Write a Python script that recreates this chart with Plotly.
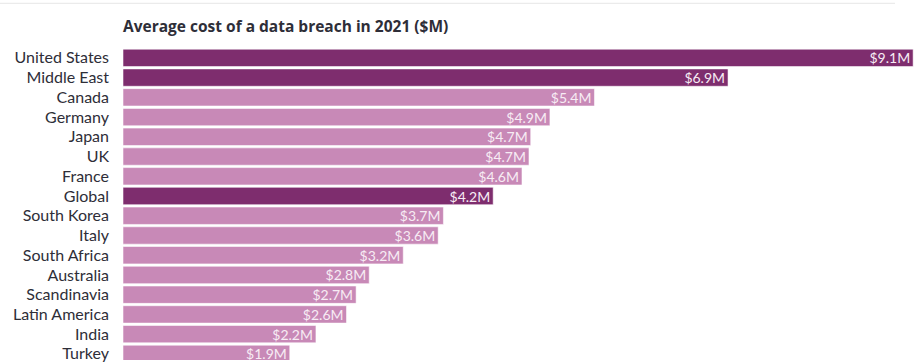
import plotly.graph_objects as go

regions = ["United States", "Middle East", "Canada", "Germany", "Japan", "UK", "France",
           "Global", "South Korea", "Italy", "South Africa", "Australia", "Scandinavia",
           "Latin America", "India", "Turkey"]
costs = [9.05, 6.93, 5.40, 4.89, 4.67, 4.65, 4.57, 4.24, 3.67, 3.61, 3.21, 2.82, 2.67,
         2.56, 2.21, 1.91]
labels = ["$9.1M", "$6.9M", "$5.4M", "$4.9M", "$4.7M", "$4.7M", "$4.6M", "$4.2M", "$3.7M",
          "$3.6M", "$3.2M", "$2.8M", "$2.7M", "$2.6M", "$2.2M", "$1.9M"]
highlight = ["United States", "Middle East", "Global"]

DARK = "#7E2D6E"
LIGHT = "#C889B7"
colors = [DARK if r in highlight else LIGHT for r in regions]

fig = go.Figure(go.Bar(
    x=costs, y=regions, orientation="h",
    marker=dict(color=colors, line=dict(color="rgba(255,255,255,0.55)", width=1)),
    text=labels, textposition="inside", insidetextanchor="end",
    textfont=dict(family="Lato", size=14, color="#F7ECF4"),
    cliponaxis=True, hoverinfo="skip", constraintext="none",
))

fig.update_layout(
    width=914, height=362,
    margin=dict(l=123, r=0, t=48, b=0),
    paper_bgcolor="white", plot_bgcolor="white",
    bargap=0.12,
    showlegend=False,
    title=dict(text="<b>Average cost of a data breach in 2021 ($M)</b>",
               x=123/914, xanchor="left", xref="container",
               y=1-27/362, yanchor="middle", yref="container",
               font=dict(family="Open Sans", size=15.5, color="#2E2E38")),
    xaxis=dict(range=[0, 9.06], visible=False, fixedrange=True),
    yaxis=dict(range=[15.31, -0.5], categoryorder="array", categoryarray=regions,
               showgrid=False, showline=False, ticks="", ticklabelstandoff=13,
               tickfont=dict(family="Lato", size=16, color="#2E2E38"), fixedrange=True),
    uniformtext=dict(mode="show", minsize=14),
    shapes=[dict(type="line", xref="paper", yref="paper",
                 x0=-123/791, x1=(895-123)/791, y0=1+45/314, y1=1+45/314,
                 line=dict(color="#E6E6E6", width=1))],
)

fig.write_html("out.html", config={"displayModeBar": False})
